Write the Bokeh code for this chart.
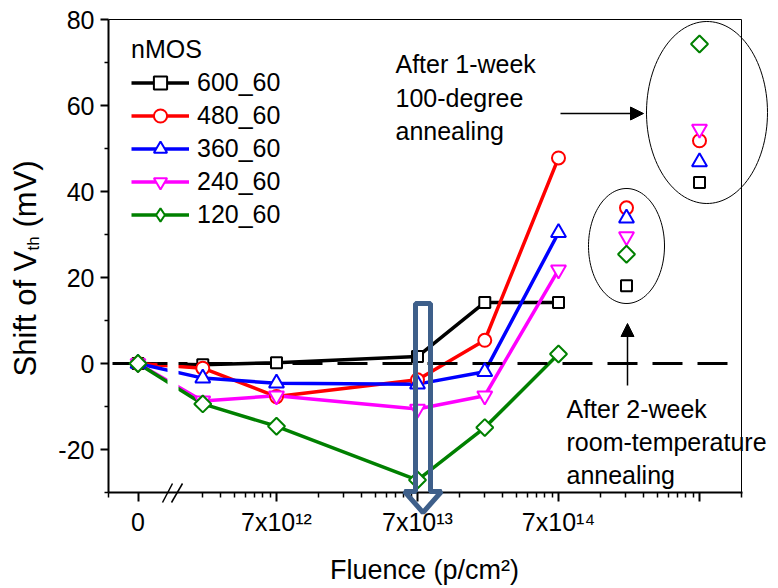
import numpy as np
from bokeh.plotting import figure
from bokeh.models import (FixedTicker, Legend, LegendItem, Label, Arrow, NormalHead,
                          PolyAnnotation, Range1d)
from bokeh.embed import file_html
from bokeh.resources import INLINE

# ---------------- data ----------------
series_names = ["600_60", "480_60", "360_60", "240_60", "120_60"]
series_colors = ["#000000", "#ff0000", "#0000ff", "#ff00ff", "#008000"]
fluence = [0, 2.1e12, 7e12, 7e13, 2.1e14, 7e14]
shift_600_60 = [0.0, -0.3, 0.2, 1.6, 14.2, 14.2]
shift_480_60 = [0.0, -1.1, -7.7, -3.8, 5.4, 47.8]
shift_360_60 = [0.0, -3.4, -4.6, -4.8, -1.9, 30.4]
shift_240_60 = [0.0, -8.7, -7.5, -10.6, -7.5, 21.8]
shift_120_60 = [0.0, -9.4, -14.6, -27.1, -14.9, 2.2]
after_2week_room_temp = [18.1, 36.2, 33.8, 29.5, 25.4]
after_1week_100deg = [42.1, 51.8, 46.9, 54.5, 74.3]
x_tick_fluence = [0, 7e12, 7e13, 7e14, 7e15]
x_tick_labels = ["0", "7x10\u00b9\u00b2", "7x10\u00b9\u00b3", "7x10\u00b9\u2074", ""]
y_ticks = [-20, 0, 20, 40, 60, 80]
y_tick_labels = ["-20", "0", "20", "40", "60", "80"]
y_minor_ticks = [-30, -10, 10, 30, 50, 70]

shifts = [shift_600_60, shift_480_60, shift_360_60, shift_240_60, shift_120_60]

# ---------------- layout helpers (canvas pixel -> data) ----------------
FONT = "Liberation Sans"
W, H = 778, 588


def ax(px):
    return 12.8451 + (px - 276) / 141.0


def ay(py):
    return (363 - py) / 4.3


X_AXIS_START = ax(108)
X_AXIS_END = 16.147
Y_AXIS_START, Y_AXIS_END = -30, 80
ZERO_POS = ax(137.5)           # where fluence 0 sits on the broken log axis
ANNEAL_POS = [ax(626), ax(699)]  # columns of the annealed groups


def xpos(f):
    return ZERO_POS if f == 0 else float(np.log10(f))


xs = [xpos(f) for f in fluence]

p = figure(width=W, height=H, x_range=Range1d(ax(0), ax(W)),
           y_range=Range1d(ay(H), ay(0)), output_backend="svg",
           toolbar_location=None, min_border_left=0, min_border_right=0,
           min_border_top=0, min_border_bottom=0)
p.xgrid.visible = False
p.ygrid.visible = False
p.outline_line_color = None
p.background_fill_color = "white"
p.border_fill_color = "white"

# axes
major_x = [xpos(f) for f in x_tick_fluence]
minor_x = [X_AXIS_START] + [float(np.log10(7e11 * k)) for k in range(3, 10)]
for dec in (7e12, 7e13, 7e14):
    minor_x += [float(np.log10(dec * k)) for k in range(2, 10)]
minor_x += [float(np.log10(7e15 * 2))]
p.xaxis.ticker = FixedTicker(ticks=major_x, minor_ticks=minor_x)
p.xaxis.major_label_overrides = {t: l for t, l in zip(major_x, x_tick_labels)}
p.xaxis.fixed_location = Y_AXIS_START
p.xaxis.bounds = (X_AXIS_START, X_AXIS_END)
p.yaxis.ticker = FixedTicker(ticks=y_ticks, minor_ticks=y_minor_ticks)
p.yaxis.major_label_overrides = {t: l for t, l in zip(y_ticks, y_tick_labels)}
p.yaxis.fixed_location = X_AXIS_START
p.yaxis.bounds = (Y_AXIS_START, Y_AXIS_END)

for axis in (p.xaxis, p.yaxis):
    axis.axis_line_width = 2
    axis.axis_line_color = "black"
    axis.major_tick_line_width = 2
    axis.minor_tick_line_width = 1.5
    axis.major_tick_line_color = "black"
    axis.minor_tick_line_color = "black"
    axis.major_tick_in = 0
    axis.minor_tick_in = 0
    axis.major_label_text_font = FONT
    axis.major_label_text_font_size = "25px"
    axis.major_label_text_color = "black"
p.xaxis.major_tick_out = 9
p.xaxis.minor_tick_out = 5
p.xaxis.major_label_standoff = 6
p.yaxis.major_tick_out = 8
p.yaxis.minor_tick_out = 4
p.yaxis.major_label_standoff = 6

# top and right frame lines
p.line([X_AXIS_START, ax(741)], [Y_AXIS_END, Y_AXIS_END], line_color="black", line_width=1)
p.line([ax(741), ax(741)], [Y_AXIS_START, Y_AXIS_END], line_color="black", line_width=1)

styles = [
    dict(marker="square", size=11, angle=0.0),
    dict(marker="circle", size=13, angle=0.0),
    dict(marker="triangle", size=15, angle=0.0),
    dict(marker="inverted_triangle", size=15, angle=0.0),
    dict(marker="square", size=12, angle=np.pi / 4),
]

line_rs = []
for ys, c in zip(shifts, series_colors):
    line_rs.append(p.line(xs, ys, line_color=c, line_width=3.5))

# zero reference line
p.line([ax(112), ax(727)], [0, 0], line_color="black", line_width=3, line_dash="30 15")

# gap in the lines at the axis break
p.quad(left=[ax(167)], right=[ax(178)], bottom=[-14], top=[4],
       fill_color="white", line_color=None)

legend_items = []
for i, (ys, c, st) in enumerate(zip(shifts, series_colors, styles)):
    legend_r = None
    if st["angle"] != 0:
        # legend glyphs ignore angle: an upright diamond on the first point,
        # hidden beneath the rotated-square marker, gives the legend symbol
        legend_r = p.scatter(xs[:1], ys[:1], marker="diamond", size=17,
                             fill_color="white", line_color=c, line_width=2)
    sr = p.scatter(xs, ys, marker=st["marker"], size=st["size"], angle=st["angle"],
                   fill_color="white", line_color=c, line_width=2)
    p.scatter(ANNEAL_POS, [after_2week_room_temp[i], after_1week_100deg[i]],
              marker=st["marker"], size=st["size"], angle=st["angle"],
              fill_color="white", line_color=c, line_width=2)
    legend_items.append(LegendItem(label=series_names[i],
                                   renderers=[line_rs[i], legend_r or sr]))

legend = Legend(items=legend_items, title="nMOS", location=(131, H - 231),
                border_line_color=None, background_fill_alpha=0,
                label_text_font=FONT, label_text_font_size="25px",
                label_text_color="black",
                title_text_font=FONT, title_text_font_size="25px",
                title_text_color="black",
                title_text_font_style="normal", glyph_width=58, glyph_height=33,
                label_height=33, spacing=0, padding=0, margin=0, label_standoff=8,
                title_standoff=2)
p.add_layout(legend)

# ellipses around annealed groups
t = np.linspace(0, 2 * np.pi, 120)
for cx, cy, w, h in ((626, 245.5, 76, 115), (706.5, 112, 121, 182)):
    exs = [ax(cx + w / 2 * np.cos(a)) for a in t]
    eys = [ay(cy + h / 2 * np.sin(a)) for a in t]
    p.add_layout(PolyAnnotation(xs=exs, ys=eys, fill_alpha=0, line_color="black",
                                line_alpha=1, line_width=1))

# block arrow
bx = [415, 430, 430, 441, 422.5, 404, 415, 415]
by = [303, 303, 491, 491, 512, 491, 491, 303]
p.add_layout(PolyAnnotation(xs=[ax(v) for v in bx], ys=[ay(v) for v in by],
                            fill_alpha=0, line_color="#3e5f8a", line_alpha=1,
                            line_width=5))

# arrows
p.add_layout(Arrow(end=NormalHead(size=13, fill_color="black", line_color="black"),
                   x_start=ax(560), y_start=ay(113), x_end=ax(643), y_end=ay(113),
                   line_width=1.5, line_color="black"))
p.add_layout(Arrow(end=NormalHead(size=13, fill_color="black", line_color="black"),
                   x_start=ax(627), y_start=ay(385), x_end=ax(627), y_end=ay(323),
                   line_width=1.5, line_color="black"))
# axis break marks
for x0, x1 in ((162, 172), (171, 182)):
    p.add_layout(Arrow(start=None, end=None, x_start=ax(x0), y_start=ay(502),
                       x_end=ax(x1), y_end=ay(483), line_width=1.5, line_color="black"))


# texts (baseline offset of ~10px observed for Label positioning)
def add_text(txt, x, y, size="25px", align="left", angle=0.0):
    p.add_layout(Label(x=x, y=y, text=txt, text_font=FONT, text_font_size=size,
                       text_align=align, text_baseline="alphabetic", angle=angle,
                       text_color="black"))


add_text("After 1-week", ax(395), ay(63))
add_text("100-degree", ax(395), ay(97))
add_text("annealing", ax(395), ay(130))
add_text("After 2-week", ax(566), ay(408))
add_text("room-temperature", ax(566), ay(441))
add_text("annealing", ax(566), ay(474))
add_text("Fluence (p/cm\u00b2)", ax(424), ay(569), size="27px", align="center")
add_text("Shift of V", ax(25), ay(376), size="31px", angle=np.pi / 2)
add_text("th", ax(33), ay(250), size="17px", angle=np.pi / 2)
add_text("(mV)", ax(25), ay(227), size="31px", angle=np.pi / 2)

open("out.html", "w").write(file_html(p, INLINE))
